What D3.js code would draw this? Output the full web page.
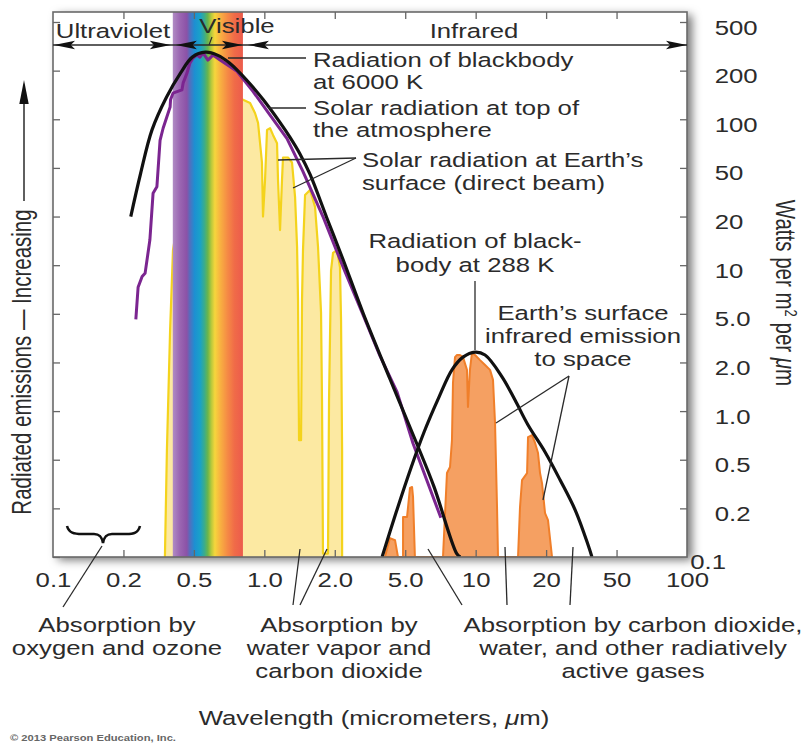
<!DOCTYPE html>
<html><head><meta charset="utf-8">
<script src="https://cdn.jsdelivr.net/npm/d3@7"></script>
<style>
html,body{margin:0;padding:0;background:#fff;}
svg{display:block;}
text{font-family:"Liberation Sans",Arial,Helvetica,sans-serif;fill:#2b2b2b;}
</style></head><body>
<svg id="c" width="804" height="743"></svg>
<script>
// ---------- data ----------
const xTicks=[0.1,0.2,0.5,1,2,5,10,20,50,100];
const xTickLabels=["0.1","0.2","0.5","1.0","2.0","5.0","10","20","50","100"];
const yTicks=[0.1,0.2,0.5,1,2,5,10,20,50,100,200,500];
const yTickLabels=["0.1","0.2","0.5","1.0","2.0","5.0","10","20","50","100","200","500"];
const visibleBand=[0.38,0.81];
const spectrumOffsets=[0,0.1,0.2,0.25,0.31,0.39,0.45,0.5,0.55,0.6,0.68,0.78,0.88,1];
const spectrumColors=["#b08cc4","#9b66b2","#8b52a7","#4d72c0","#1d8fd2","#19a2c8","#3aac8d","#6ab54b","#b9c93c","#f6d63c","#f8b041","#f58a45","#f06b48","#ec5b4c"];
const blackbody6000=[[0.22,20],[0.25,45],[0.29,86],[0.35,137],[0.42,193],[0.49,258],[0.56,283],[0.63,268],[0.71,231],[0.84,175],[0.99,132],[1.17,95],[1.29,77],[1.42,61],[1.57,44],[1.85,19.6],[2.23,10.8],[2.89,5.06],[4.1,1.58],[5.6,0.63],[6.64,0.3],[8.3,0.105],[8.6,0.1]];
const solarTop=[[0.235,4.5],[0.242,7.3],[0.255,8.5],[0.265,8.9],[0.282,14.3],[0.294,31],[0.309,35],[0.322,74],[0.335,88],[0.367,119],[0.369,132],[0.381,145],[0.428,152],[0.435,168],[0.457,193],[0.475,231],[0.495,254],[0.515,268],[0.531,258],[0.547,279],[0.574,244],[0.603,268],[0.647,244],[0.764,198],[0.894,149],[1.058,106],[1.25,76],[1.46,47],[1.78,20],[2.23,9.7],[2.89,4.9],[3.6,2.26],[4.5,1.31],[5.4,0.63],[7.1,0.175]];
const solarSurface=[[0.343,0.1],[0.352,0.57],[0.367,3.7],[0.381,12.4],[0.53,175],[0.811,132],[0.869,126],[0.913,109],[0.94,95],[0.977,54],[0.987,20],[1.007,40],[1.027,86],[1.058,88],[1.089,80],[1.133,71],[1.144,40],[1.167,16.5],[1.19,40],[1.202,58],[1.262,58],[1.313,54],[1.353,29],[1.38,13],[1.393,6.1],[1.407,0.66],[1.435,0.66],[1.449,6.1],[1.463,12.4],[1.493,30],[1.568,33],[1.647,24],[1.696,13],[1.747,5.1],[1.764,1.17],[1.781,0.105],[1.871,0.105],[1.89,1.17],[1.928,9.3],[1.966,11.9],[2.06,12.4],[2.14,9.7],[2.17,4.45],[2.2,0.57],[2.2,0.1]];
const blackbody288=[[3.7,0.1],[4.43,0.187],[5.29,0.428],[6.02,0.742],[6.97,1.22],[7.92,1.8],[8.83,2.21],[9.94,2.43],[10.97,2.3],[12.96,1.63],[14.73,1.17],[16.74,0.82],[19.79,0.558],[24,0.341],[29.2,0.195],[34.5,0.119],[36.3,0.1]];
const earthEmission=[[3.84,0.1],[4.1,0.131],[4.38,0.127],[4.55,0.1],[4.86,0.1],[4.86,0.177],[5.09,0.177],[5.24,0.294],[5.35,0.299],[5.40,0.248],[5.50,0.1],[7.25,0.1],[7.4,0.187],[7.54,0.389],[7.77,0.436],[7.92,0.662],[8.0,1.5],[8.16,2.21],[8.32,2.3],[8.57,2.3],[8.83,2.21],[9.18,1.8],[9.27,1.06],[9.45,1.8],[9.64,2.39],[9.94,2.3],[10.44,2.09],[10.97,1.93],[11.52,1.8],[11.86,1.56],[12.1,0.844],[12.34,0.205],[12.46,0.1],[15.17,0.1],[15.47,0.205],[15.78,0.341],[16.58,0.389],[16.74,0.691],[17.41,0.711],[17.94,0.635],[18.47,0.55],[18.84,0.389],[19.21,0.322],[19.4,0.267],[19.79,0.187],[20.5,0.169],[21.6,0.1]];

// ---------- layout ----------
const L=53,R=687,T=12,B=557,Y500=22;
const SX=1.32, FS=19.5;
const svg=d3.select("#c");
const xLin=d3.scaleLinear().domain(xTicks.map(Math.log10)).range(xTicks.map((d,i)=>L+i*(R-L)/(xTicks.length-1)));
const yLin=d3.scaleLinear().domain(yTicks.map(Math.log10)).range(yTicks.map((d,i)=>B-i*(B-Y500)/(yTicks.length-1)));
const x=v=>xLin(Math.log10(v)), y=v=>yLin(Math.log10(v));

const defs=svg.append("defs");
const f=defs.append("filter").attr("id","sh").attr("x","-5%").attr("y","-5%").attr("width","115%").attr("height","115%");
f.append("feDropShadow").attr("dx",5).attr("dy",3).attr("stdDeviation",5).attr("flood-color","#000").attr("flood-opacity",0.55);
const grad=defs.append("linearGradient").attr("id","spec").attr("x1","0").attr("x2","1").attr("y1","0").attr("y2","0");
spectrumOffsets.forEach((o,i)=>grad.append("stop").attr("offset",o).attr("stop-color",spectrumColors[i]));
defs.append("clipPath").attr("id","clip").append("rect").attr("x",L).attr("y",T).attr("width",R-L).attr("height",B-T);

svg.append("rect").attr("x",L).attr("y",T).attr("width",R-L).attr("height",B-T).attr("fill","#fff").attr("filter","url(#sh)");

const plot=svg.append("g").attr("clip-path","url(#clip)");
// yellow surface radiation
plot.append("path").datum(solarSurface).attr("d",d3.area().x(d=>x(d[0])).y0(B).y1(d=>y(d[1]))).attr("fill","#fce9a2");
plot.append("path").datum(solarSurface).attr("d",d3.line().x(d=>x(d[0])).y(d=>y(d[1]))).attr("fill","none").attr("stroke","#f4d31c").attr("stroke-width",2.2).attr("stroke-linejoin","round");
// spectrum band
plot.append("rect").attr("x",x(visibleBand[0])).attr("y",T).attr("width",x(visibleBand[1])-x(visibleBand[0])).attr("height",B-T).attr("fill","url(#spec)");
// earth emission
plot.append("path").datum(earthEmission).attr("d",d3.area().x(d=>x(d[0])).y0(B).y1(d=>y(d[1]))).attr("fill","#f5a062").attr("stroke","#f07f2a").attr("stroke-width",2).attr("stroke-linejoin","round");
// purple TOA
plot.append("path").datum(solarTop).attr("d",d3.line().x(d=>x(d[0])).y(d=>y(d[1]))).attr("fill","none").attr("stroke","#7b2590").attr("stroke-width",3).attr("stroke-linejoin","round");
// black body curves
const cl=d3.line().x(d=>x(d[0])).y(d=>y(d[1])).curve(d3.curveCatmullRom);
plot.append("path").datum(blackbody6000).attr("d",cl).attr("fill","none").attr("stroke","#111").attr("stroke-width",3.2);
plot.append("path").datum(blackbody288).attr("d",cl).attr("fill","none").attr("stroke","#111").attr("stroke-width",3.2);

// frame
svg.append("rect").attr("x",L).attr("y",T).attr("width",R-L).attr("height",B-T).attr("fill","none").attr("stroke","#6a6a6a").attr("stroke-width",1.6);

// axes
function styleAxis(g){g.select(".domain").remove();g.selectAll(".tick line").attr("stroke","#666").attr("stroke-width",1.3);}
const xInner=xTicks.slice(1,-1).map(Math.log10);
svg.append("g").attr("transform",`translate(0,${T})`).call(d3.axisTop(xLin).tickValues(xInner).tickSizeInner(-7).tickSizeOuter(0).tickFormat("")).call(styleAxis);
const xb=svg.append("g").attr("transform",`translate(0,${B})`).call(d3.axisBottom(xLin).tickValues(xTicks.map(Math.log10)).tickSizeInner(-7).tickSizeOuter(0).tickPadding(30).tickFormat((d,i)=>xTickLabels[i])).call(styleAxis);
xb.selectAll(".tick").filter((d,i)=>i===0||i===xTicks.length-1).select("line").remove();
xb.selectAll(".tick text").attr("dy",0).attr("y",30).attr("transform",`scale(${SX},1)`).style("font-size",FS+"px").attr("fill","#2b2b2b").attr("font-family",null);
svg.append("g").attr("transform",`translate(${L},0)`).call(d3.axisLeft(yLin).tickValues(yTicks.map(Math.log10)).tickSizeInner(-7).tickSizeOuter(0).tickFormat("")).call(styleAxis);
const yr=svg.append("g").attr("transform",`translate(${R},0)`).call(d3.axisRight(yLin).tickValues(yTicks.map(Math.log10)).tickSizeInner(-7).tickSizeOuter(0).tickPadding(21).tickFormat((d,i)=>yTickLabels[i])).call(styleAxis);
yr.selectAll(".tick text").attr("dy",0).attr("y",12).attr("text-anchor","start").attr("transform",`scale(${SX},1)`).style("font-size",FS+"px").attr("fill","#2b2b2b").attr("font-family",null);
yr.selectAll(".tick").filter((d,i)=>i===0).select("text").attr("x",2.5).attr("y",11);
yr.selectAll(".tick").filter((d,i)=>i===0).select("line").remove();

// ---------- annotation helpers ----------
function label(lines,cx,y0,lh,anchor){
  lines.forEach((ln,i)=>{
    const t=svg.append("text").attr("transform",`translate(${cx},${y0+i*lh}) scale(${SX},1)`).attr("text-anchor",anchor).style("font-size",FS+"px");
    (Array.isArray(ln)?ln:[ln]).forEach(seg=>{
      if(typeof seg==="string") t.append("tspan").text(seg);
      else t.append("tspan").style("font-style","italic").text(seg.i);
    });
  });
}
function seg(x1,y1,x2,y2,w){svg.append("line").attr("x1",x1).attr("y1",y1).attr("x2",x2).attr("y2",y2).attr("stroke","#2a2a2a").attr("stroke-width",w||1.3);}
function head(tx,ty,dir){ // dir: +1 points right, -1 points left
  const l=21,h=4.2;
  svg.append("path").attr("d",`M${tx},${ty}L${tx-dir*l},${ty-h}L${tx-dir*l*0.8},${ty}L${tx-dir*l},${ty+h}Z`).attr("fill","#111");
}

// region arrows
const AY=45, b0=x(visibleBand[0]), b1=x(visibleBand[1]);
seg(L,AY,R,AY,1.5);
head(L+1,AY,-1); head(b0-2,AY,1);
head(b0+3,AY,-1); head(b1,AY,1);
head(b1+5,AY,-1); head(R,AY,1);
label(["Ultraviolet"],113,38,0,"middle");
label(["Visible"],237,33,0,"middle");
label(["Infrared"],474,38,0,"middle");
seg(212,37,209,45,1.2);

// curve annotations
label(["Radiation of blackbody","at 6000 K"],313,67,22,"start");
seg(228,58,306,58);
label(["Solar radiation at top of","the atmosphere"],313,115,22,"start");
seg(268,108,306,108);
label(["Solar radiation at Earth\u2019s","surface (direct beam)"],362,167,23,"start");
seg(356,158,278,160); seg(356,158,293,188);
label(["Radiation of black-","body at 288 K"],475,248,24,"middle");
seg(475,281,475,350);
label(["Earth\u2019s surface","infrared emission","to space"],583,320,23,"middle");
seg(569,376,496,423); seg(569,376,543,500);

// bottom annotations
svg.append("path").attr("d","M67,526 C69,533 74,534 82,534 L94,534 C100,534 102,537 103,543 C104,537 106,534 112,534 L126,534 C134,534 138,533 140,526")
  .attr("fill","none").attr("stroke","#111").attr("stroke-width",2.6);
seg(102,546,63,607);
label(["Absorption by","oxygen and ozone"],117,632,23,"middle");
seg(300,549,293,605); seg(327,549,300,605);
label(["Absorption by","water vapor and","carbon dioxide"],339,632,23,"middle");
seg(428,549,462,605); seg(505,547,507,605); seg(573,547,570,605);
label(["Absorption by carbon dioxide,","water, and other radiatively","active gases"],633,632,23,"middle");

label([["Wavelength (micrometers, ",{i:"\u03bc"},"m)"]],374,725,0,"middle");

// rotated titles
svg.append("text").attr("transform",`translate(31,362) rotate(-90) scale(1,${SX})`).attr("text-anchor","middle").style("font-size","20.5px").text("Radiated emissions \u2014 Increasing");
seg(24,201,24,100,1.5);
svg.append("path").attr("d","M24,80L19.3,104L28.7,104Z").attr("fill","#111");
const rt=svg.append("text").attr("transform",`translate(776,293) rotate(90) scale(1,${SX})`).attr("text-anchor","middle").style("font-size","20.5px");
rt.append("tspan").text("Watts per m");
rt.append("tspan").attr("dy",-7).style("font-size","13px").text("2");
rt.append("tspan").attr("dy",7).text(" per ");
rt.append("tspan").style("font-style","italic").text("\u03bc");
rt.append("tspan").text("m");

svg.append("text").attr("transform",`translate(10,741) scale(1.3,1)`).style("font-size","8.6px").style("font-weight","bold").style("fill","#666").text("\u00a9 2013 Pearson Education, Inc.");
</script>
</body></html>
